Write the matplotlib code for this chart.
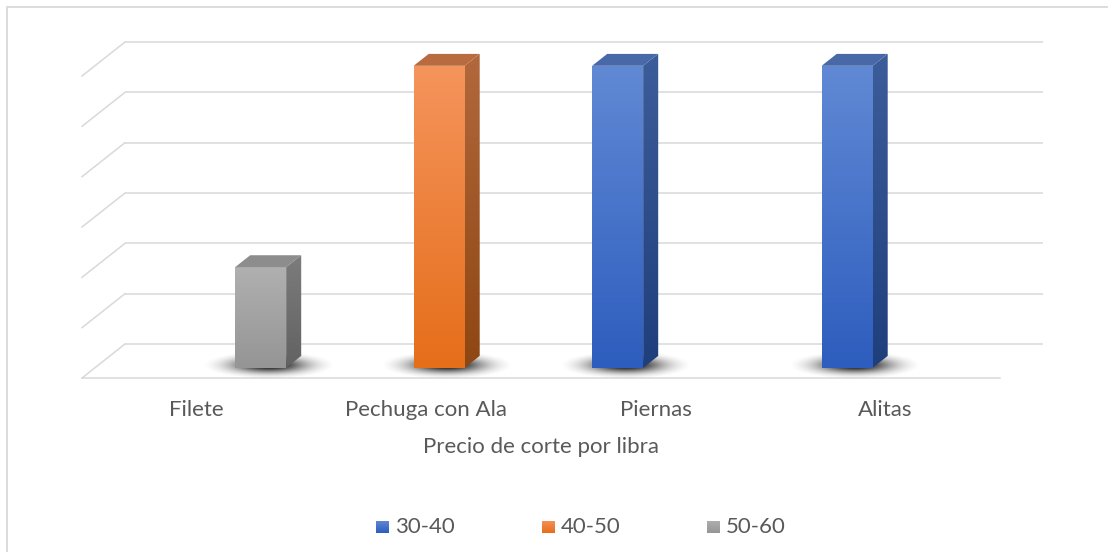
import numpy as np
import matplotlib
matplotlib.use('Agg')
import matplotlib.pyplot as plt
from matplotlib.patches import Polygon, Rectangle

categories = ['Filete', 'Pechuga con Ala', 'Piernas', 'Alitas']
series = ['30-40', '40-50', '50-60']
values_30_40 = [0, 0, 6, 6]
values_40_50 = [0, 6, 0, 0]
values_50_60 = [2, 0, 0, 0]
y_max = 6
x_title = 'Precio de corte por libra'

# face colours per series: front top, front bottom, side top, side bottom, top face
styles = {
    '30-40': ('#6189D4', '#2D5DBE', '#3D5C9A', '#1E3F7C', '#4868A8'),
    '40-50': ('#F5945C', '#E56E1A', '#B2683C', '#8E4612', '#B96B40'),
    '50-60': ('#B0B0B0', '#959595', '#7C7C7C', '#626262', '#8D8D8D'),
}
values = [values_30_40, values_40_50, values_50_60]

W, H = 1108, 552
fig = plt.figure(figsize=(W / 100, H / 100), dpi=100)
ax = fig.add_axes([0, 0, 1, 1])
ax.set_axis_off()

# pixel layout of the plot floor: front edge from x=82 to x=1000 at y=378
px_x = 918 / len(categories)      # pixels per category
px_y = 302 / y_max                # pixels per value unit
x0_px, floor_px = 82, 378
xlim = (-x0_px / px_x, (W - x0_px) / px_x)
ylim = (-(H - floor_px) / px_y, floor_px / px_y)

# oblique depth vector (front -> back wall)
DX = 43 / px_x
DY = 34 / px_y


def proj(x, y, d):
    return x + d * DX, y + d * DY


def grad_poly(verts, c_top, c_bot, z):
    verts = np.asarray(verts)
    poly = Polygon(verts, closed=True, facecolor='none', edgecolor='none')
    ax.add_patch(poly)
    t = np.linspace(0, 1, 128)[:, None]
    a = np.array(matplotlib.colors.to_rgb(c_top))
    b = np.array(matplotlib.colors.to_rgb(c_bot))
    img = (a * (1 - t) + b * t)[:, None, :]
    im = ax.imshow(img, extent=(verts[:, 0].min(), verts[:, 0].max(),
                                verts[:, 1].min(), verts[:, 1].max()),
                   aspect='auto', interpolation='bilinear', zorder=z)
    im.set_clip_path(poly)


grid_col = '#D9D9D9'
# back wall gridlines and left wall diagonals
for v in range(y_max + 1):
    xb0, yb0 = proj(0, v, 1)
    xb1, yb1 = proj(len(categories), v, 1)
    ax.plot([xb0, xb1], [yb0, yb1], color=grid_col, lw=1.1, zorder=1,
            solid_capstyle='butt')
    xf, yf = proj(0, v, 0)
    ax.plot([xf, xb0], [yf, yb0], color=grid_col, lw=1.1, zorder=1)
# front floor edge
ax.plot([0, len(categories)], [0, 0], color=grid_col, lw=1.1, zorder=1)

# soft shadow profile, fading to zero at the image border
gx = np.linspace(-1, 1, 160)
gy = np.linspace(-1, 1, 48)
GX, GY = np.meshgrid(gx, gy)
k = 3.2
fall = (np.exp(-k * (GX ** 2 + GY ** 2)) - np.exp(-k)) / (1 - np.exp(-k))
shadow = np.zeros((48, 160, 4))
shadow[..., 3] = 0.95 * np.clip(fall, 0, 1)

# bars
slot = 51 / px_x
d0, d1 = 0.30, 0.65
for si, name in enumerate(series):
    ft, fb, st, sb, tc = styles[name]
    for ci, val in enumerate(values[si]):
        if val <= 0:
            continue
        xc = ci + 0.5 + (si - 1) * slot
        xl, xr = xc - slot / 2, xc + slot / 2

        # floor shadow around the footprint
        sx, sy = proj(xc + 4 / px_x, 0, (d0 + d1) / 2 - 0.08)
        hw, hh = 66 / px_x, 14 / px_y
        ax.imshow(shadow, extent=(sx - hw, sx + hw, sy - hh, sy + hh),
                  aspect='auto', interpolation='bilinear', zorder=2)

        # front face
        fx0, fy0 = proj(xl, 0, d0)
        fx1, fy1 = proj(xr, val, d0)
        grad_poly([(fx0, fy0), (fx1, fy0), (fx1, fy1), (fx0, fy1)], ft, fb, 3)
        # right side face
        bx0, by0 = proj(xr, 0, d1)
        bx1, by1 = proj(xr, val, d1)
        grad_poly([(fx1, fy0), (bx0, by0), (bx1, by1), (fx1, fy1)], st, sb, 3)
        # top face
        tx, ty = proj(xl, val, d1)
        ax.add_patch(Polygon([(fx0, fy1), (fx1, fy1), (bx1, by1), (tx, ty)],
                             closed=True, facecolor=tc, edgecolor='none',
                             zorder=4))

ax.set_xlim(*xlim)
ax.set_ylim(*ylim)

txt_col = '#595959'
font = 'Lato'
for ci, cat in enumerate(categories):
    ax.text(ci + 0.5, -(410 - floor_px) / px_y, cat, ha='center', va='center',
            fontsize=16, color=txt_col, family=font)
ax.text(len(categories) / 2, -(447 - floor_px) / px_y, x_title, ha='center',
        va='center', fontsize=16, color=txt_col, family=font)

# legend along the bottom
leg_y = 527
for i, name in enumerate(series):
    lx = 376 + i * 165.5
    ft, fb = styles[name][:2]
    sq = 13
    x0, x1 = (lx - x0_px) / px_x, (lx + sq - x0_px) / px_x
    y0, y1 = -(leg_y + sq / 2 - floor_px) / px_y, -(leg_y - sq / 2 - floor_px) / px_y
    grad_poly([(x0, y0), (x1, y0), (x1, y1), (x0, y1)], ft, fb, 5)
    ax.text((lx + 19 - x0_px) / px_x, -(leg_y - floor_px) / px_y, name,
            ha='left', va='center', fontsize=16, color=txt_col, family=font)

ax.set_xlim(*xlim)
ax.set_ylim(*ylim)

# chart area border
fig.add_artist(Rectangle((7 / W, -0.1), 1.2, (H - 7) / H + 0.1,
                         transform=fig.transFigure, facecolor='none',
                         edgecolor='#D9D9D9', lw=1.3))

fig.savefig('out.png', dpi=100)
